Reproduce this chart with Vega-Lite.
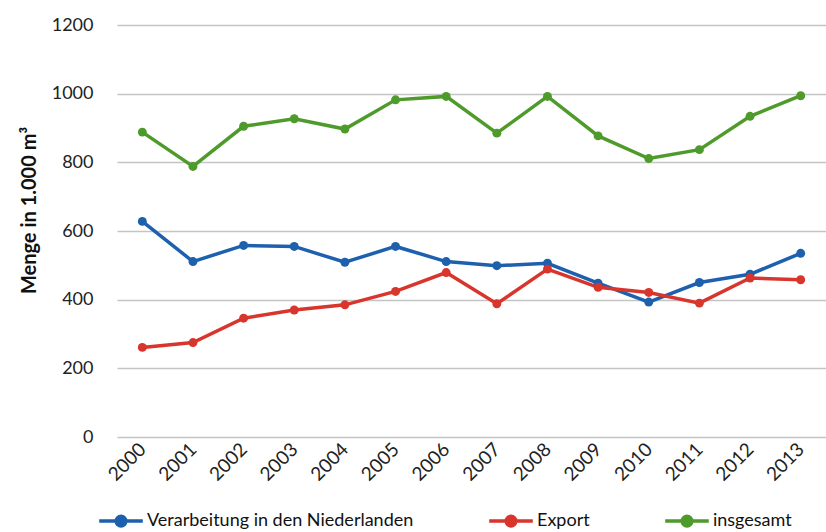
{
  "$schema": "https://vega.github.io/schema/vega-lite/v6.json",
  "width": 709,
  "height": 412,
  "autosize": "none",
  "padding": {"left": 117, "top": 25, "right": 0, "bottom": 95},
  "background": "white",
  "config": {
    "font": "Lato",
    "view": {"stroke": null}
  },
  "data": {
    "values": [
      {"Jahr": "2000", "Reihe": "Verarbeitung in den Niederlanden", "Menge": 628},
      {"Jahr": "2001", "Reihe": "Verarbeitung in den Niederlanden", "Menge": 511},
      {"Jahr": "2002", "Reihe": "Verarbeitung in den Niederlanden", "Menge": 558},
      {"Jahr": "2003", "Reihe": "Verarbeitung in den Niederlanden", "Menge": 555},
      {"Jahr": "2004", "Reihe": "Verarbeitung in den Niederlanden", "Menge": 509},
      {"Jahr": "2005", "Reihe": "Verarbeitung in den Niederlanden", "Menge": 555},
      {"Jahr": "2006", "Reihe": "Verarbeitung in den Niederlanden", "Menge": 511},
      {"Jahr": "2007", "Reihe": "Verarbeitung in den Niederlanden", "Menge": 499},
      {"Jahr": "2008", "Reihe": "Verarbeitung in den Niederlanden", "Menge": 506},
      {"Jahr": "2009", "Reihe": "Verarbeitung in den Niederlanden", "Menge": 448},
      {"Jahr": "2010", "Reihe": "Verarbeitung in den Niederlanden", "Menge": 393},
      {"Jahr": "2011", "Reihe": "Verarbeitung in den Niederlanden", "Menge": 450},
      {"Jahr": "2012", "Reihe": "Verarbeitung in den Niederlanden", "Menge": 474},
      {"Jahr": "2013", "Reihe": "Verarbeitung in den Niederlanden", "Menge": 535},
      {"Jahr": "2000", "Reihe": "Export", "Menge": 261},
      {"Jahr": "2001", "Reihe": "Export", "Menge": 275},
      {"Jahr": "2002", "Reihe": "Export", "Menge": 346},
      {"Jahr": "2003", "Reihe": "Export", "Menge": 370},
      {"Jahr": "2004", "Reihe": "Export", "Menge": 385},
      {"Jahr": "2005", "Reihe": "Export", "Menge": 424},
      {"Jahr": "2006", "Reihe": "Export", "Menge": 479},
      {"Jahr": "2007", "Reihe": "Export", "Menge": 388},
      {"Jahr": "2008", "Reihe": "Export", "Menge": 489},
      {"Jahr": "2009", "Reihe": "Export", "Menge": 436},
      {"Jahr": "2010", "Reihe": "Export", "Menge": 421},
      {"Jahr": "2011", "Reihe": "Export", "Menge": 390},
      {"Jahr": "2012", "Reihe": "Export", "Menge": 463},
      {"Jahr": "2013", "Reihe": "Export", "Menge": 458},
      {"Jahr": "2000", "Reihe": "insgesamt", "Menge": 888},
      {"Jahr": "2001", "Reihe": "insgesamt", "Menge": 788},
      {"Jahr": "2002", "Reihe": "insgesamt", "Menge": 905},
      {"Jahr": "2003", "Reihe": "insgesamt", "Menge": 927},
      {"Jahr": "2004", "Reihe": "insgesamt", "Menge": 897},
      {"Jahr": "2005", "Reihe": "insgesamt", "Menge": 982},
      {"Jahr": "2006", "Reihe": "insgesamt", "Menge": 992},
      {"Jahr": "2007", "Reihe": "insgesamt", "Menge": 885},
      {"Jahr": "2008", "Reihe": "insgesamt", "Menge": 992},
      {"Jahr": "2009", "Reihe": "insgesamt", "Menge": 877},
      {"Jahr": "2010", "Reihe": "insgesamt", "Menge": 811},
      {"Jahr": "2011", "Reihe": "insgesamt", "Menge": 837},
      {"Jahr": "2012", "Reihe": "insgesamt", "Menge": 934},
      {"Jahr": "2013", "Reihe": "insgesamt", "Menge": 994}
    ]
  },
  "encoding": {
    "x": {
      "field": "Jahr",
      "type": "ordinal",
      "scale": {"type": "point", "padding": 0.5},
      "axis": {
        "title": null,
        "labelAngle": -45,
        "labelAlign": "right",
        "labelBaseline": "middle",
        "labelFontSize": 19,
        "labelColor": "#222",
        "labelPadding": 9,
        "ticks": false,
        "domain": false,
        "grid": false
      }
    },
    "y": {
      "field": "Menge",
      "type": "quantitative",
      "scale": {"domain": [0, 1200]},
      "axis": {
        "title": "Menge in 1.000 m³",
        "titleFontSize": 20,
        "titleFontWeight": "bold",
        "titleColor": "#111",
        "titlePadding": 12,
        "titleY": 185,
        "format": "d",
        "values": [0, 200, 400, 600, 800, 1000, 1200],
        "labelFontSize": 18,
        "labelColor": "#222",
        "labelPadding": 24,
        "ticks": false,
        "domain": false,
        "grid": true,
        "gridColor": "#c4c4c4",
        "gridWidth": 1.5
      }
    },
    "color": {
      "field": "Reihe",
      "type": "nominal",
      "scale": {
        "domain": ["Verarbeitung in den Niederlanden", "Export", "insgesamt"],
        "range": ["#1d60ae", "#d8352c", "#4e9b2b"]
      },
      "legend": {
        "title": null,
        "orient": "none",
        "direction": "horizontal",
        "legendX": -20,
        "legendY": 472,
        "labelFontSize": 18,
        "labelColor": "#111",
        "labelOffset": 2,
        "labelLimit": 400,
        "columnPadding": 68,
        "symbolType": "M-1,0H1M-0.22,0A0.22,0.22 0 1,1 0.22,0A0.22,0.22 0 1,1 -0.22,0Z",
        "symbolSize": 1900,
        "symbolStrokeWidth": 3.5,
        "encode": {
          "symbols": {
            "update": {
              "stroke": {"scale": "color", "field": "value"},
              "strokeWidth": {"value": 3.5},
              "fill": {"scale": "color", "field": "value"}
            }
          }
        }
      }
    }
  },
  "layer": [
    {
      "mark": {"type": "line", "strokeWidth": 3.5},
      "encoding": {"detail": {"field": "Reihe"}}
    },
    {
      "mark": {"type": "point", "filled": true, "size": 80, "opacity": 1}
    }
  ]
}
